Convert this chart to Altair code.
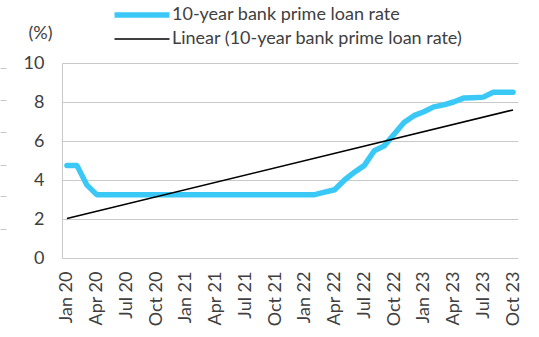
import altair as alt
import pandas as pd

# Monthly values, Jan 2020 .. Oct 2023 (46 months)
rate = [4.75, 4.75, 3.75, 3.25, 3.25, 3.25, 3.25, 3.25, 3.25, 3.25, 3.25, 3.25,
        3.25, 3.25, 3.25, 3.25, 3.25, 3.25, 3.25, 3.25, 3.25, 3.25, 3.25, 3.25,
        3.25, 3.25, 3.375, 3.5, 4.0, 4.4, 4.75, 5.5, 5.75, 6.35, 6.95, 7.3,
        7.5, 7.75, 7.85, 8.0, 8.2, 8.22, 8.25, 8.5, 8.5, 8.5]
month_index = list(range(len(rate)))
tick_labels = ["Jan 20", "Apr 20", "Jul 20", "Oct 20", "Jan 21", "Apr 21", "Jul 21", "Oct 21",
               "Jan 22", "Apr 22", "Jul 22", "Oct 22", "Jan 23", "Apr 23", "Jul 23", "Oct 23"]
tick_values = list(range(0, 46, 3))
series_names = ["10-year bank prime loan rate", "Linear (10-year bank prime loan rate)"]
series_colors = ["#3AC9F7", "#000000"]
series_widths = [5.5, 1.6]
stray_ticks = [0.15, 0.316, 0.478, 0.644, 0.808, 0.974]

df = pd.DataFrame({"i": month_index, "v": rate, "s": series_names[0]})
ticks_df = pd.DataFrame({"t": stray_ticks})

FONT = "Lato"
TXT = "#404040"
GRID = "#c9c9c9"

label_expr = "[" + ",".join("'" + l + "'" for l in tick_labels) + "][round(datum.value/3)]"
x_scale = alt.Scale(domain=[-0.5, 45.5], nice=False, zero=False)

x_axis = alt.Axis(values=tick_values, labelExpr=label_expr, labelAngle=-90,
                  labelAlign="right", labelBaseline="middle", labelOverlap=False,
                  labelBound=False, labelFlush=False,
                  ticks=False, tickSize=0, labelPadding=13, domain=False,
                  grid=False, title=None, labelFont=FONT, labelFontSize=18,
                  labelColor=TXT)
x_enc = alt.X("i:Q", scale=x_scale, axis=x_axis)

legend = alt.Legend(title=None, orient="none", legendX=71, legendY=-57,
                    symbolType="M-5,0H5", symbolSize=121,
                    labelFont=FONT, labelFontSize=18, labelColor=TXT,
                    labelOffset=21, rowPadding=4, padding=0, labelLimit=500)
color_enc = alt.Color("s:N", scale=alt.Scale(domain=series_names, range=series_colors),
                      legend=legend)
width_enc = alt.StrokeWidth("s:N", scale=alt.Scale(domain=series_names, range=series_widths),
                            legend=legend)

y_scale = alt.Scale(domain=[0, 10], nice=False)

actual = alt.Chart(df).mark_line(strokeCap="round", strokeJoin="round").encode(
    x=x_enc,
    y=alt.Y("v:Q", scale=y_scale,
            axis=alt.Axis(values=[0, 2, 4, 6, 8, 10], ticks=False, tickSize=0, labelPadding=18,
                          grid=True, gridColor=GRID, gridWidth=1, domain=True,
                          domainColor=GRID, labelFont=FONT, labelFontSize=18, labelColor=TXT,
                          title="(%)", titleAngle=0, titleX=-22, titleY=-30,
                          titleAlign="center", titleBaseline="middle", titleFont=FONT,
                          titleFontSize=18, titleFontWeight="normal", titleColor=TXT)),
    color=color_enc,
    strokeWidth=width_enc,
)

trend = alt.Chart(df).transform_regression("i", "v").transform_calculate(
    s="'" + series_names[1] + "'"
).mark_line().encode(
    x=x_enc,
    y=alt.Y("v:Q", scale=y_scale, axis=None),
    color=color_enc,
    strokeWidth=width_enc,
)

stray = alt.Chart(ticks_df).mark_point(opacity=0).encode(
    x=alt.value(0),
    y=alt.Y("t:Q", scale=alt.Scale(domain=[0, 1], nice=False),
            axis=alt.Axis(orient="left", offset=56, values=stray_ticks, labels=False,
                          ticks=True, tickSize=6, tickColor=GRID, domain=False,
                          grid=False, title=None)),
)

chart = alt.layer(actual, trend, stray).resolve_scale(y="independent").properties(
    width=456, height=195,
    background="white",
    view=alt.ViewBackground(stroke="transparent", strokeWidth=0),
    autosize=alt.AutoSizeParams(type="none"),
    padding={"left": 62, "top": 63, "right": 21, "bottom": 79},
).configure_view(stroke="transparent", strokeWidth=0).configure_axisX(labelOverlap=False)

chart.save("out.html", embed_options={"renderer": "svg", "actions": False})
